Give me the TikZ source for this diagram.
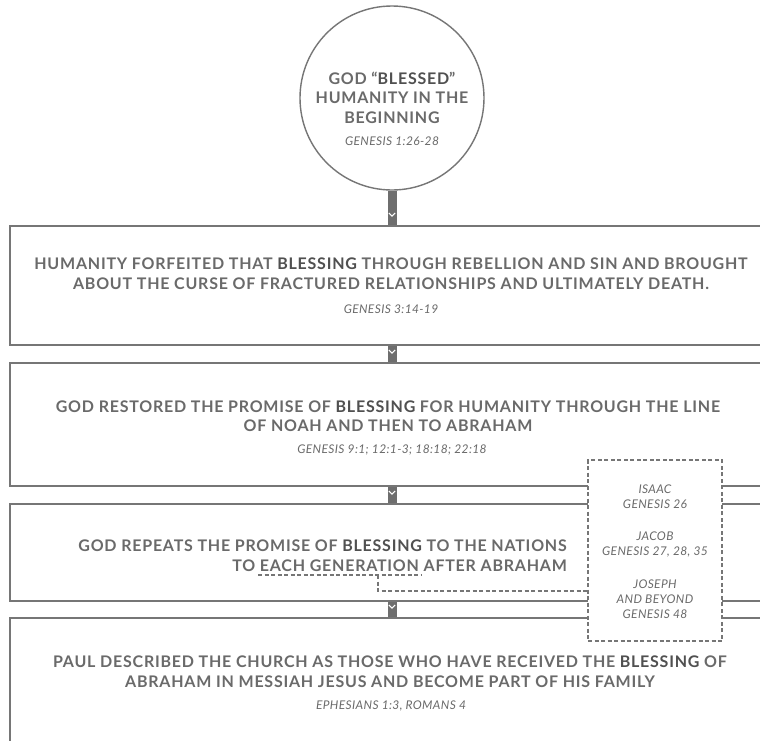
\documentclass[tikz,border=0pt]{standalone}
\usepackage{fontspec}
\setmainfont{Lato}
\newfontfamily\hd[LetterSpace=4.8]{Lato}
\newfontfamily\hv[LetterSpace=4.8]{Lato Black}
\newfontfamily\refit[LetterSpace=3.0]{Lato}
\usetikzlibrary{decorations.markings}
\definecolor{txt}{HTML}{6A6A6A}
\definecolor{dk}{HTML}{505050}
\definecolor{ln}{HTML}{767676}
\definecolor{bar}{HTML}{6E6E6E}
\newcommand{\BL}{{\hv\color{dk}BLESSING}}
\tikzset{
  box/.style={draw=ln, line width=2pt, fill=white, inner sep=0pt},
  head/.style={text=txt, font=\hd\bfseries\fontsize{16}{19.5}\selectfont, inner sep=0pt, align=center},
  ref/.style={text=txt, font=\refit\itshape\fontsize{12}{14.5}\selectfont, inner sep=0pt, align=center},
  side/.style={text=txt, font=\refit\itshape\fontsize{12}{15}\selectfont, inner sep=0pt, align=center},
  conn/.style={draw=bar, line width=9pt,
    postaction={decorate, decoration={markings, mark=at position -9pt with {\draw[white, line width=1.1pt] (-3pt,3.2pt) -- (0pt,0pt) -- (-3pt,-3.2pt);}}}},
  dashl/.style={draw=ln, line width=1.3pt, dash pattern=on 4pt off 2.5pt}
}
\begin{document}
\begin{tikzpicture}[x=1pt,y=-1pt]
\useasboundingbox (0,0) rectangle (760,740);
\clip (0,0) rectangle (760,740);
\fill[white] (0,0) rectangle (760,740);
% boxes
\node[box, minimum width=790pt, minimum height=119pt] (b1) at (405,285.5) {};
\node[box, minimum width=790pt, minimum height=123pt] (b2) at (405,424.5) {};
\node[box, minimum width=790pt, minimum height=97pt] (b3) at (405,552.5) {};
\node[box, minimum width=790pt, minimum height=182pt] (b4) at (405,709) {};
\node[circle, draw=ln, line width=1.4pt, fill=white, minimum size=184pt, inner sep=0pt] (c0) at (392,98) {};
% connectors
\draw[conn] (c0.south) -- (c0.south |- b1.north);
\draw[conn] (b1.south -| c0.south) -- (b2.north -| c0.south);
\draw[conn] (b2.south -| c0.south) -- (b3.north -| c0.south);
\draw[conn] (b3.south -| c0.south) -- (b4.north -| c0.south);
% side dashed box
\node[draw=ln, line width=1.3pt, dash pattern=on 4pt off 2.5pt, fill=white, minimum width=134pt, minimum height=181pt, inner sep=0pt] (jb) at (655,550.5) {};
\coordinate (ulA) at (258,575);
\coordinate (ulB) at (422,575);
\coordinate (ulM) at (378,575);
\coordinate (turn) at (378,591);
\draw[dashl] (ulA) -- (ulB);
\draw[dashl] (ulM) -- (turn) -- (turn -| jb.west);
% texts
\node[head] (t0) at (392,97.5) {GOD “{\hv\color{dk}BLESSED}”\\HUMANITY IN THE\\BEGINNING};
\node[ref] (r0) at (392,141) {GENESIS 1:26-28};
\node[head] (t1) at (391,273.5) {HUMANITY FORFEITED THAT \BL{} THROUGH REBELLION AND SIN AND BROUGHT\\ABOUT THE CURSE OF FRACTURED RELATIONSHIPS AND ULTIMATELY DEATH.};
\node[ref] (r1) at (391,309) {GENESIS 3:14-19};
\node[head] (t2) at (388,416) {GOD RESTORED THE PROMISE OF \BL{} FOR HUMANITY THROUGH THE LINE\\OF NOAH AND THEN TO ABRAHAM};
\node[ref] (r2) at (392,450) {GENESIS 9:1; 12:1-3; 18:18; 22:18};
\node[head, align=right, anchor=east] (t3) at (567,555.5) {GOD REPEATS THE PROMISE OF \BL{} TO THE NATIONS\\TO EACH GENERATION AFTER ABRAHAM};
\node[head] (t4) at (390,671.5) {PAUL DESCRIBED THE CHURCH AS THOSE WHO HAVE RECEIVED THE \BL{} OF\\ABRAHAM IN MESSIAH JESUS AND BECOME PART OF HIS FAMILY};
\node[ref] (r4) at (391,706) {EPHESIANS 1:3, ROMANS 4};
\node[side] (s1) at (655,497) {ISAAC\\GENESIS 26};
\node[side] (s2) at (655,544) {JACOB\\GENESIS 27, 28, 35};
\node[side] (s3) at (655,599) {JOSEPH\\AND BEYOND\\GENESIS 48};
\end{tikzpicture}
\end{document}
